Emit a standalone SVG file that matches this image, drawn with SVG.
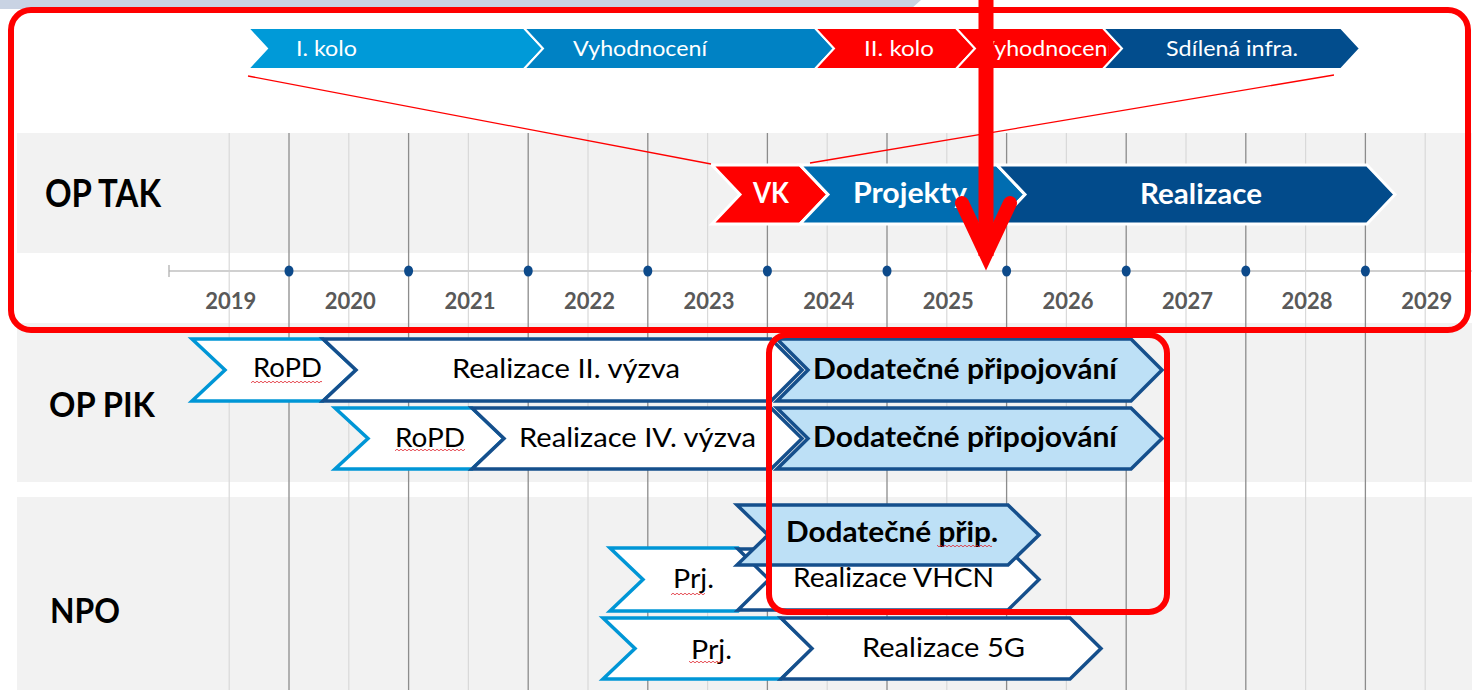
<svg xmlns="http://www.w3.org/2000/svg" width="1472" height="690" viewBox="0 0 1472 690">
<style>
.band{fill:#f2f2f2}
.gl{stroke:#d9d9d9;stroke-width:1.2}
.gd{stroke:#8c8c8c;stroke-width:1.3}
text{font-family:Lato,"Liberation Sans",Arial,sans-serif}
.tw{fill:#fff;font-size:21px}
.tb{fill:#fff;font-size:28px;font-weight:bold}
.yr{fill:#595959;font-size:22px;font-weight:bold;text-anchor:middle}
.rl{fill:#000;font-weight:bold}
.tn{fill:#000;font-size:26.5px}
.td{fill:#000;font-size:28px;font-weight:bold}
.tc{stroke:#fff;stroke-width:2;stroke-linejoin:miter}
.oc{stroke:#fff;stroke-width:3;stroke-linejoin:miter}
.lb{fill:#fff;stroke:#0096d6;stroke-width:3.5;stroke-linejoin:miter}
.db{fill:#fff;stroke:#154f8c;stroke-width:3.5;stroke-linejoin:miter}
.dd{fill:#bde0f6;stroke:#154f8c;stroke-width:3.5;stroke-linejoin:miter}
.rr{fill:none;stroke:#ff0000;stroke-width:6}
.sq{fill:url(#sqp)}
</style>
<defs>
<pattern id="sqp" width="4" height="4" patternUnits="userSpaceOnUse">
<path d="M0,2 Q1,0.4 2,2 T4,2" fill="none" stroke="#e0202a" stroke-width="0.8"/>
</pattern>
<clipPath id="cv2"><rect x="956" y="28" width="153" height="41"/></clipPath>
</defs>

<g id="background">
<rect width="1472" height="690" fill="#fff"/>
<polygon points="0,0 921,0 911,9 0,9" fill="#c9d3e3"/>
<rect class="band" x="17" y="133" width="1455" height="120"/>
<rect class="band" x="17" y="323" width="1455" height="159"/>
<rect class="band" x="17" y="497" width="1455" height="193"/>
</g>

<g id="grid">
<line class="gl" x1="229.2" y1="133" x2="229.2" y2="690"/>
<line class="gl" x1="348.8" y1="133" x2="348.8" y2="690"/>
<line class="gl" x1="468.4" y1="133" x2="468.4" y2="690"/>
<line class="gl" x1="588" y1="133" x2="588" y2="690"/>
<line class="gl" x1="707.6" y1="133" x2="707.6" y2="690"/>
<line class="gl" x1="827.2" y1="133" x2="827.2" y2="690"/>
<line class="gl" x1="946.8" y1="133" x2="946.8" y2="690"/>
<line class="gl" x1="1066.4" y1="133" x2="1066.4" y2="690"/>
<line class="gl" x1="1186" y1="133" x2="1186" y2="690"/>
<line class="gl" x1="1305.6" y1="133" x2="1305.6" y2="690"/>
<line class="gl" x1="1425.2" y1="133" x2="1425.2" y2="690"/>
<line class="gd" x1="289" y1="133" x2="289" y2="690"/>
<line class="gd" x1="408.6" y1="133" x2="408.6" y2="690"/>
<line class="gd" x1="528.2" y1="133" x2="528.2" y2="690"/>
<line class="gd" x1="647.8" y1="133" x2="647.8" y2="690"/>
<line class="gd" x1="767.4" y1="133" x2="767.4" y2="690"/>
<line class="gd" x1="887" y1="133" x2="887" y2="690"/>
<line class="gd" x1="1006.6" y1="133" x2="1006.6" y2="690"/>
<line class="gd" x1="1126.2" y1="133" x2="1126.2" y2="690"/>
<line class="gd" x1="1245.8" y1="133" x2="1245.8" y2="690"/>
<line class="gd" x1="1365.4" y1="133" x2="1365.4" y2="690"/>
</g>

<g id="axis">
<line x1="169" y1="271" x2="1472" y2="271" stroke="#d0d0d0" stroke-width="2"/>
<line x1="169" y1="265" x2="169" y2="277" stroke="#b0b0b0" stroke-width="1.3"/>
<g fill="#0d4a8a">
<ellipse cx="289" cy="271" rx="4.5" ry="5.5"/>
<ellipse cx="408.6" cy="271" rx="4.5" ry="5.5"/>
<ellipse cx="528.2" cy="271" rx="4.5" ry="5.5"/>
<ellipse cx="647.8" cy="271" rx="4.5" ry="5.5"/>
<ellipse cx="767.4" cy="271" rx="4.5" ry="5.5"/>
<ellipse cx="887" cy="271" rx="4.5" ry="5.5"/>
<ellipse cx="1006.6" cy="271" rx="4.5" ry="5.5"/>
<ellipse cx="1126.2" cy="271" rx="4.5" ry="5.5"/>
<ellipse cx="1245.8" cy="271" rx="4.5" ry="5.5"/>
<ellipse cx="1365.4" cy="271" rx="4.5" ry="5.5"/>
</g>
<text class="yr" x="230.7" y="309">2019</text>
<text class="yr" x="350.3" y="309">2020</text>
<text class="yr" x="469.9" y="309">2021</text>
<text class="yr" x="589.5" y="309">2022</text>
<text class="yr" x="709.1" y="309">2023</text>
<text class="yr" x="828.7" y="309">2024</text>
<text class="yr" x="948.3" y="309">2025</text>
<text class="yr" x="1067.9" y="309">2026</text>
<text class="yr" x="1187.5" y="309">2027</text>
<text class="yr" x="1307.1" y="309">2028</text>
<text class="yr" x="1426.7" y="309">2029</text>
</g>

<g id="row-labels">
<text class="rl" x="45" y="207" font-size="38" textLength="116" lengthAdjust="spacingAndGlyphs">OP TAK</text>
<text class="rl" x="49" y="417" font-size="34" textLength="106" lengthAdjust="spacingAndGlyphs">OP PIK</text>
<text class="rl" x="50" y="623" font-size="35" textLength="70" lengthAdjust="spacingAndGlyphs">NPO</text>
</g>

<g id="top-kolo1">
<polygon class="tc" fill="#009ad8" points="248,28 524,28 543,48.5 524,69 248,69 267,48.5"/>
<text class="tw" x="296" y="55.5" textLength="61" lengthAdjust="spacingAndGlyphs">I. kolo</text>
</g>
<g id="top-vyhodnoceni1">
<polygon class="tc" fill="#0082c4" points="524,28 815,28 834,48.5 815,69 524,69 543,48.5"/>
<text class="tw" x="573" y="55.5" textLength="134" lengthAdjust="spacingAndGlyphs">Vyhodnocení</text>
</g>
<g id="top-kolo2">
<polygon class="tc" fill="#ff0000" points="815,28 956,28 975,48.5 956,69 815,69 834,48.5"/>
<text class="tw" x="864" y="55.5" textLength="70" lengthAdjust="spacingAndGlyphs">II. kolo</text>
</g>
<g id="top-vyhodnoceni2">
<polygon class="tc" fill="#ff0000" points="956,28 1103,28 1122,48.5 1103,69 956,69 975,48.5"/>
<text class="tw" x="979" y="55.5" textLength="134" lengthAdjust="spacingAndGlyphs" clip-path="url(#cv2)">Vyhodnocení</text>
</g>
<g id="top-sdilena">
<polygon class="tc" fill="#024d8d" points="1103,28 1341,28 1360,48.5 1341,69 1103,69 1122,48.5"/>
<text class="tw" x="1166" y="55.5" textLength="132" lengthAdjust="spacingAndGlyphs">Sdílená infra.</text>
</g>

<g id="optak-vk">
<polygon class="oc" fill="#ff0000" points="712,165 800,165 828,194.5 800,224 712,224 740,194.5"/>
<text class="tb" x="753" y="203" textLength="36" lengthAdjust="spacingAndGlyphs">VK</text>
</g>
<g id="optak-projekty">
<polygon class="oc" fill="#006db1" points="800,165 997,165 1025,194.5 997,224 800,224 828,194.5"/>
<text class="tb" x="853" y="203" textLength="114" lengthAdjust="spacingAndGlyphs">Projekty</text>
</g>
<g id="optak-realizace">
<polygon class="oc" fill="#024b8b" points="997,165 1367,165 1395,194.5 1367,224 997,224 1025,194.5"/>
<text class="tb" x="1140" y="204" textLength="122" lengthAdjust="spacingAndGlyphs">Realizace</text>
</g>

<g id="oppik-ropd1">
<polygon class="lb" points="192,339 323,339 356,370 323,401 192,401 225,370"/>
<text class="tn" x="253" y="377" textLength="69" lengthAdjust="spacingAndGlyphs">RoPD</text>
<rect class="sq" x="251" y="380" width="71" height="4"/>
</g>
<g id="oppik-realizace2">
<polygon class="db" points="323,339 771,339 802,370 771,401 323,401 356,370"/>
<text class="tn" x="452" y="378" textLength="228" lengthAdjust="spacingAndGlyphs">Realizace II. výzva</text>
</g>
<g id="oppik-dodatecne1">
<polygon class="dd" points="777,339 1131,339 1162,370 1131,401 777,401 808,370"/>
<text class="td" x="813" y="379" textLength="304" lengthAdjust="spacingAndGlyphs">Dodatečné připojování</text>
</g>

<g id="oppik-ropd2">
<polygon class="lb" points="335,408 472,408 504,438.5 472,469 335,469 368,438.5"/>
<text class="tn" x="395" y="447" textLength="70" lengthAdjust="spacingAndGlyphs">RoPD</text>
<rect class="sq" x="395" y="448" width="70" height="4"/>
</g>
<g id="oppik-realizace4">
<polygon class="db" points="472,408 771,408 802,438.5 771,469 472,469 504,438.5"/>
<text class="tn" x="519" y="447" textLength="237" lengthAdjust="spacingAndGlyphs">Realizace IV. výzva</text>
</g>
<g id="oppik-dodatecne2">
<polygon class="dd" points="777,408 1131,408 1162,438.5 1131,469 777,469 808,438.5"/>
<text class="td" x="813" y="447" textLength="304" lengthAdjust="spacingAndGlyphs">Dodatečné připojování</text>
</g>

<g id="npo-prj1">
<polygon class="lb" points="610,548 738,548 770,579.5 738,611 610,611 643,579.5"/>
<text class="tn" x="673" y="588" textLength="41" lengthAdjust="spacingAndGlyphs">Prj.</text>
<rect class="sq" x="671" y="592" width="34" height="4"/>
</g>
<g id="npo-vhcn">
<polygon class="db" points="738,549 1008,549 1039,579.5 1008,610 738,610 769,579.5"/>
<text class="tn" x="793" y="587" textLength="201" lengthAdjust="spacingAndGlyphs">Realizace VHCN</text>
</g>
<g id="npo-dodatecne">
<polygon class="dd" points="737,505 1008,505 1039,535 1008,565 737,565 768,535"/>
<text class="td" x="786" y="542" textLength="212" lengthAdjust="spacingAndGlyphs">Dodatečné přip.</text>
<rect class="sq" x="937" y="544" width="55" height="4"/>
</g>
<g id="npo-prj2">
<polygon class="lb" points="603,618 781,618 813,648.5 781,679 603,679 635,648.5"/>
<text class="tn" x="691" y="659" textLength="41" lengthAdjust="spacingAndGlyphs">Prj.</text>
<rect class="sq" x="689" y="660" width="34" height="4"/>
</g>
<g id="npo-5g">
<polygon class="db" points="781,618 1070,618 1101,648.5 1070,679 781,679 812,648.5"/>
<text class="tn" x="862" y="657" textLength="163" lengthAdjust="spacingAndGlyphs">Realizace 5G</text>
</g>

<g id="connectors">
<line x1="248" y1="76" x2="711" y2="164" stroke="#ff0000" stroke-width="1.3"/>
<line x1="1334" y1="75" x2="810" y2="163" stroke="#ff0000" stroke-width="1.3"/>
</g>

<g id="highlights">
<rect class="rr" x="11" y="10" width="1457" height="320" rx="20"/>
<rect class="rr" x="769" y="335" width="398" height="277" rx="18"/>
</g>

<g id="arrow">
<line x1="986" y1="-4" x2="986" y2="256" stroke="#ff0000" stroke-width="15"/>
<polyline points="962,203 986,254 1010,203" fill="none" stroke="#ff0000" stroke-width="14" stroke-linejoin="miter" stroke-miterlimit="6" stroke-linecap="round"/>
</g>
</svg>
